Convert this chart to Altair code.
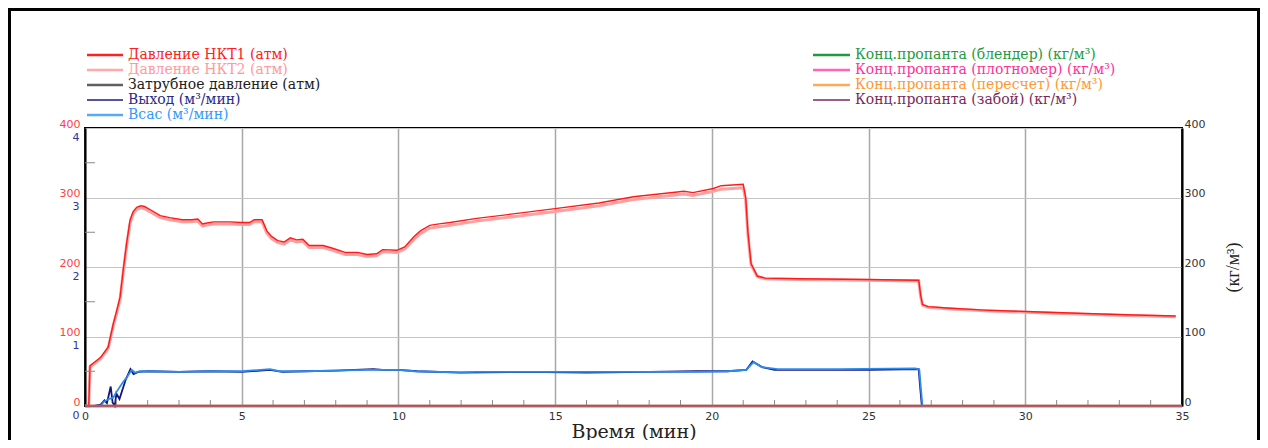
import altair as alt
import pandas as pd

# ---------------- data ----------------
# Давление НКТ1 (атм): (time min, pressure atm)
nkt1 = [(0, 0), (0.12, 0), (0.16, 58), (0.3, 63), (0.5, 70), (0.74, 85), (0.9, 118), (1.0, 135),
        (1.12, 157), (1.22, 196), (1.33, 235), (1.44, 268), (1.54, 280), (1.65, 286), (1.78, 288),
        (1.9, 287), (2.1, 282), (2.4, 274), (2.7, 271), (3.1, 268), (3.4, 268), (3.6, 269), (3.75, 262),
        (3.85, 263), (4.1, 265), (4.6, 265), (5.0, 264), (5.25, 264), (5.4, 268), (5.65, 268), (5.8, 252),
        (5.95, 244), (6.15, 238), (6.35, 236), (6.55, 242), (6.75, 239), (6.95, 240), (7.15, 231),
        (7.6, 231), (7.9, 227), (8.3, 221), (8.7, 221), (9.0, 218), (9.3, 219), (9.5, 225), (9.95, 224),
        (10.2, 229), (10.5, 244), (10.7, 252), (11.0, 260), (11.3, 262), (11.65, 264), (12.5, 270),
        (13.6, 276), (15.0, 284), (16.4, 292), (17.5, 301), (18.9, 308), (19.1, 309), (19.4, 307),
        (20.05, 313), (20.3, 317), (21.0, 319), (21.08, 300), (21.15, 250), (21.25, 205), (21.45, 187),
        (21.7, 184), (22.8, 183), (24.9, 182), (26.6, 181), (26.66, 160), (26.72, 146), (26.9, 143),
        (27.5, 141), (28.7, 138), (30.0, 136), (31.9, 133), (33.5, 131), (34.8, 129.5)]

# Давление НКТ2 (атм)
nkt2 = [(0, 0), (0.12, 0), (0.16, 56), (0.3, 61), (0.5, 68), (0.74, 83), (0.9, 115), (1.0, 132),
        (1.12, 154), (1.22, 192), (1.33, 231), (1.44, 264), (1.54, 277), (1.65, 283), (1.78, 285),
        (1.9, 284), (2.1, 279), (2.4, 271), (2.7, 268), (3.1, 265), (3.4, 265), (3.6, 266), (3.75, 259),
        (3.85, 260), (4.1, 262), (4.6, 262), (5.0, 261), (5.25, 261), (5.4, 265), (5.65, 265), (5.8, 249),
        (5.95, 241), (6.15, 235), (6.35, 233), (6.55, 239), (6.75, 236), (6.95, 237), (7.15, 228),
        (7.6, 228), (7.9, 224), (8.3, 218), (8.7, 218), (9.0, 215), (9.3, 216), (9.5, 222), (9.95, 221),
        (10.2, 226), (10.5, 240), (10.7, 248), (11.0, 256), (11.3, 258), (11.65, 260), (12.5, 266),
        (13.6, 272), (15.0, 280), (16.4, 288), (17.5, 297), (18.9, 304), (19.1, 305), (19.4, 303),
        (20.05, 309), (20.3, 312), (21.0, 314), (21.08, 296), (21.15, 247), (21.25, 203), (21.45, 186),
        (21.7, 183), (22.8, 182), (24.9, 181), (26.6, 180), (26.66, 158), (26.72, 145), (26.9, 142),
        (27.5, 140), (28.7, 137), (30.0, 135), (31.9, 132), (33.5, 130), (34.8, 128.5)]

# Выход (м³/мин)
vyhod = [(0, 0), (0.3, 0), (0.5, 0.02), (0.62, 0.08), (0.7, 0.04), (0.82, 0.28), (0.88, 0.05),
         (0.95, 0.0), (1.0, 0.18), (1.1, 0.1), (1.3, 0.38), (1.45, 0.53), (1.55, 0.46), (1.7, 0.49),
         (2.0, 0.5), (3.0, 0.49), (4.0, 0.5), (5.0, 0.49), (5.9, 0.52), (6.3, 0.49), (7.0, 0.5),
         (8.0, 0.51), (9.2, 0.53), (9.5, 0.52), (10.0, 0.52), (10.6, 0.5), (12.0, 0.48), (14.0, 0.49),
         (16.0, 0.48), (18.0, 0.49), (19.5, 0.5), (20.5, 0.5), (21.1, 0.52), (21.3, 0.64), (21.6, 0.56),
         (22.0, 0.52), (24.0, 0.52), (25.0, 0.52), (26.6, 0.53), (26.64, 0.3), (26.7, 0)]

# Всас (м³/мин)
vsas = [(0, 0), (0.5, 0), (0.6, 0.06), (0.75, 0.1), (0.9, 0.12), (1.0, 0.2), (1.22, 0.35), (1.35, 0.42),
        (1.49, 0.52), (1.6, 0.48), (1.75, 0.5), (2.0, 0.5), (3.0, 0.49), (4.0, 0.5), (5.0, 0.5),
        (5.9, 0.53), (6.2, 0.5), (7.0, 0.5), (8.0, 0.51), (9.0, 0.52), (10.0, 0.52), (10.5, 0.5),
        (11.9, 0.485), (12.5, 0.49), (14.0, 0.49), (16.0, 0.49), (18.0, 0.49), (19.6, 0.49), (20.5, 0.5),
        (21.1, 0.52), (21.33, 0.63), (21.6, 0.56), (22.1, 0.53), (24.0, 0.53), (26.5, 0.54), (26.62, 0.52),
        (26.66, 0.3), (26.72, 0)]

# Конц. пропанта (кг/м³) - all four stay at zero
conc_names = ["блендер", "плотномер", "пересчет", "забой"]
conc_colors = ["#1f9a3f", "#ff3399", "#ff9933", "#8a3a6a"]
conc_t = [0, 35]
conc_v = [0, 0]

x_ticks = [0, 5, 10, 15, 20, 25, 30, 35]
x_minor = [1, 2, 3, 4, 6, 7, 8, 9, 11, 12, 13, 14, 16, 17, 18, 19, 21, 22, 23, 24, 26, 27, 28, 29,
           31, 32, 33, 34]
p_ticks = [0, 100, 200, 300, 400]
p_minor = [50, 150, 250, 350]
q_ticks = [0, 1, 2, 3, 4]
c_ticks = [0, 100, 200, 300, 400]

legend_left = ["Давление НКТ1  (атм)", "Давление НКТ2 (атм)", "Затрубное давление (атм)",
               "Выход (м³/мин)", "Всас (м³/мин)"]
legend_left_text = ["#ff2020", "#ff9a9a", "#202020", "#2a2a8a", "#3399ff"]
legend_left_line = ["#ff2020", "#ffaaaa", "#606060", "#1a1a80", "#55aaff"]
legend_left_w = [2.5, 2.5, 2.5, 1.5, 2.5]
legend_right = ["Конц.пропанта (блендер) (кг/м³)", "Конц.пропанта (плотномер) (кг/м³)",
                "Конц.пропанта (пересчет) (кг/м³)", "Конц.пропанта (забой) (кг/м³)"]
legend_right_text = ["#1f9a3f", "#ff3399", "#ff9933", "#7a2a5a"]
legend_right_line = ["#1f9a3f", "#ff66bb", "#ffaa55", "#7a2a5a"]
legend_right_w = [2.5, 2.5, 2.5, 1.5]

# ---------------- chart ----------------
W, H = 1097, 278
SANS = "DejaVu Sans"
SERIF = "DejaVu Serif"

def df(pairs, name):
    return pd.DataFrame(pairs, columns=["t", name])

xscale = alt.Scale(domain=[0, 35], nice=False, zero=False)
xaxis = alt.Axis(values=x_ticks, title="Время (мин)", titleFont=SERIF, titleFontSize=19,
                 titleFontWeight="normal", titleColor="#222222", titlePadding=1,
                 labelFont=SANS, labelFontSize=11, labelColor="#333333", labelPadding=4,
                 labelFlush=False, ticks=False, domain=False, grid=True,
                 gridColor="#a8a8a8", gridWidth=1.5)
X = alt.X("t:Q", scale=xscale, axis=xaxis)

pscale = alt.Scale(domain=[0, 400], nice=False)
qscale = alt.Scale(domain=[0, 4], nice=False)
cscale = alt.Scale(domain=[0, 400], nice=False)

conc_df = pd.DataFrame([{"t": t, "c": v, "s": n} for n in conc_names for t, v in zip(conc_t, conc_v)])

pink = alt.Chart(df(nkt2, "p")).mark_line(color="#ffa0a0", strokeWidth=3).encode(
    x=X,
    y=alt.Y("p:Q", scale=pscale,
            axis=alt.Axis(orient="left", values=p_ticks, title=None, labelFont=SANS, labelFontSize=11,
                          labelColor="#ff4040", labelPadding=5, labelOffset=-4, ticks=False,
                          domain=True, domainColor="#000000", domainWidth=2, grid=True,
                          gridColor="#c4c4c4", gridWidth=1)))

red = alt.Chart(df(nkt1, "p")).mark_line(color="#ff1a1a", strokeWidth=1.4).encode(
    x=X, y=alt.Y("p:Q", scale=pscale, axis=None))

navy = alt.Chart(df(vyhod, "q")).mark_line(color="#14147a", strokeWidth=1.8).encode(
    x=X, y=alt.Y("q:Q", scale=qscale, axis=None))

blue = alt.Chart(df(vsas, "q")).mark_line(color="#2a8cf0", strokeWidth=1.8).encode(
    x=X,
    y=alt.Y("q:Q", scale=qscale,
            axis=alt.Axis(orient="left", values=q_ticks, title=None, labelFont=SANS, labelFontSize=11,
                          labelColor="#333399", labelPadding=6, labelOffset=9, ticks=False,
                          domain=False, grid=False)))

conc = alt.Chart(conc_df).mark_line(strokeWidth=2.5, opacity=0.5).encode(
    x=X,
    y=alt.Y("c:Q", scale=cscale,
            axis=alt.Axis(orient="right", values=c_ticks, title="(кг/м³)", titleAngle=270,
                          titleFont="Liberation Serif", titleFontSize=18, titleFontWeight="normal",
                          titleColor="#222222", titlePadding=38, labelFont=SANS, labelFontSize=11,
                          labelColor="#333333", labelPadding=2, labelOffset=-4, ticks=False,
                          domain=True, domainColor="#000000", domainWidth=2, grid=False)),
    color=alt.Color("s:N", scale=alt.Scale(domain=conc_names, range=conc_colors), legend=None))

minor_x = alt.Chart(pd.DataFrame({"t": x_minor})).mark_rule(color="#8a8a8a", strokeWidth=1).encode(
    x=X, y=alt.value(H - 6), y2=alt.value(H))

minor_y = alt.Chart(pd.DataFrame({"v": p_minor})).mark_rule(color="#8a8a8a", strokeWidth=1).encode(
    y=alt.Y("v:Q", scale=pscale, axis=None), x=alt.value(0), x2=alt.value(10))

one = pd.DataFrame({"a": [0]})
frame = alt.Chart(one).mark_rect(fillOpacity=0, stroke="#000000", strokeWidth=3).encode(
    x=alt.value(-75.5), x2=alt.value(W + 76.5), y=alt.value(-118.5), y2=alt.value(H + 60))

legend_layers = []
for i, (lab, tc, lc, lw) in enumerate(zip(legend_left, legend_left_text, legend_left_line, legend_left_w)):
    yy = -73 + 15 * i
    legend_layers.append(alt.Chart(one).mark_rule(color=lc, strokeWidth=lw).encode(
        x=alt.value(2), x2=alt.value(38), y=alt.value(yy)))
    legend_layers.append(alt.Chart(one).mark_text(align="left", baseline="middle", font=SERIF,
                                                  fontSize=14, color=tc).encode(
        x=alt.value(43), y=alt.value(yy), text=alt.value(lab)))
for i, (lab, tc, lc, lw) in enumerate(zip(legend_right, legend_right_text, legend_right_line, legend_right_w)):
    yy = -73 + 15 * i
    legend_layers.append(alt.Chart(one).mark_rule(color=lc, strokeWidth=lw).encode(
        x=alt.value(728), x2=alt.value(765), y=alt.value(yy)))
    legend_layers.append(alt.Chart(one).mark_text(align="left", baseline="middle", font=SERIF,
                                                  fontSize=14, color=tc).encode(
        x=alt.value(770), y=alt.value(yy), text=alt.value(lab)))

chart = alt.layer(
    pink, red, navy, blue, minor_x, minor_y, conc, frame, *legend_layers
).resolve_scale(y="independent").properties(
    width=W, height=H,
    autosize=alt.AutoSizeParams(type="none"),
    padding={"left": 77, "top": 120, "right": 78, "bottom": 34},
    background="white",
).configure_view(stroke="#000000", strokeWidth=2)

chart.save("out.html", embed_options={"renderer": "svg", "actions": False})
